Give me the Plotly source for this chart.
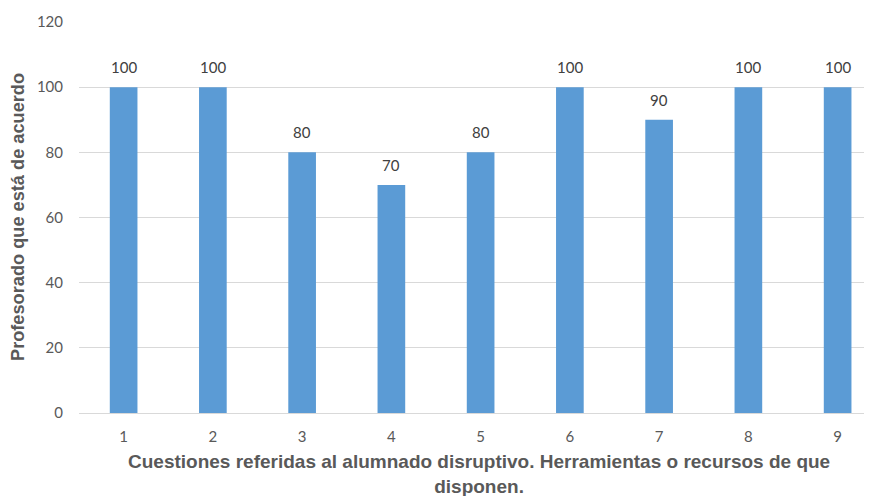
import plotly.graph_objects as go

categories = [1, 2, 3, 4, 5, 6, 7, 8, 9]
values = [100, 100, 80, 70, 80, 100, 90, 100, 100]
y_ticks = [0, 20, 40, 60, 80, 100, 120]
x_title_lines = ["Cuestiones referidas al alumnado disruptivo. Herramientas o recursos de que",
                 "disponen."]
y_title = "Profesorado que está de acuerdo"

# the page body has an 8px margin, so the figure is sized to fill the rest of the window
W, H = 864, 488
ml, mr, mt, mb = 71, 0, 14, 83
plot_w = W - ml - mr
plot_h = H - mt - mb
cat_step = 89.25

fig = go.Figure()
fig.add_trace(go.Bar(
    x=categories, y=values, width=0.31,
    marker=dict(color="#5B9BD5", line=dict(width=0)),
    hoverinfo="x+y",
))

for c, v in zip(categories, values):
    fig.add_annotation(x=c, y=v, text=str(v), showarrow=False,
                       yanchor="bottom", yshift=9,
                       font=dict(family="Lato, Open Sans, sans-serif", size=15, color="#404040"))

title_x = (479 - 79) / 793
fig.add_annotation(
    xref="paper", yref="paper", x=title_x, y=0, xanchor="center", yanchor="middle",
    yshift=-61, text="<b>" + "<br>".join(x_title_lines) + "</b>", showarrow=False,
    align="center",
    font=dict(family="Liberation Sans, Arial, sans-serif", size=19, color="#595959"),
)
fig.add_annotation(
    xref="paper", yref="paper", x=0, xshift=-61, y=(413 - 217) / 391,
    textangle=-90, xanchor="center", yanchor="middle",
    text="<b>" + y_title + "</b>", showarrow=False,
    font=dict(family="Liberation Sans, Arial, sans-serif", size=18.2, color="#595959"),
)

fig.update_layout(
    width=W, height=H,
    margin=dict(l=ml, r=mr, t=mt, b=mb),
    paper_bgcolor="white", plot_bgcolor="white",
    showlegend=False,
    xaxis=dict(
        range=[0.5, 0.5 + plot_w / cat_step],
        tickvals=categories, ticktext=[str(c) for c in categories],
        showgrid=False, zeroline=False, showline=True, linecolor="#d9d9d9", linewidth=1,
        ticks="", ticklabelstandoff=10,
        tickfont=dict(family="Lato, Open Sans, sans-serif", size=15, color="#595959"),
    ),
    yaxis=dict(
        range=[0, 120], tickvals=y_ticks,
        showgrid=True, gridcolor="#d9d9d9", gridwidth=1,
        zeroline=False, showline=False, ticks="",
        ticklabelstandoff=15,
        tickfont=dict(family="Lato, Open Sans, sans-serif", size=15, color="#595959"),
    ),
    bargap=0.69,
)

fig.write_html("out.html")
